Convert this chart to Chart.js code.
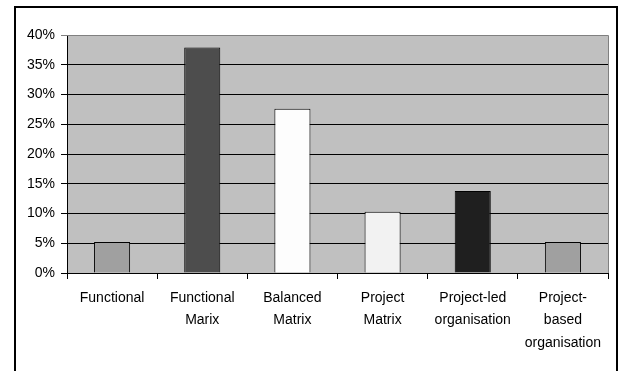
<!DOCTYPE html>
<html>
<head>
<meta charset="utf-8">
<script src="https://cdn.jsdelivr.net/npm/chart.js@4.4.0/dist/chart.umd.min.js"></script>
<style>
  html, body { margin: 0; padding: 0; background: #fff; }
  #wrap { position: relative; width: 618px; height: 371px; overflow: hidden; }
  #frame {
    position: absolute; left: 14px; top: 6px; width: 604px; height: 420px;
    box-sizing: border-box; border: 2px solid #000; border-bottom: none;
  }
  canvas { position: absolute; left: 0; top: 0; }
</style>
</head>
<body>
<div id="wrap">
  <div id="frame"></div>
  <canvas id="chart" width="618" height="371"></canvas>
</div>
<script>
// categories and values (share of respondents, %)
const categories = [
  ['Functional'],
  ['Functional', 'Marix'],
  ['Balanced', 'Matrix'],
  ['Project', 'Matrix'],
  ['Project-led', 'organisation'],
  ['Project-', 'based', 'organisation']
];
const shares = [5.2, 37.9, 27.6, 10.3, 13.8, 5.2];
const barColours = ['#a0a0a0', '#4d4d4d', '#fdfdfd', '#f2f2f2', '#1f1f1f', '#a0a0a0'];
const yMax = 40;
const yStep = 5;

Chart.defaults.font.family = "'Liberation Sans', Arial, sans-serif";
Chart.defaults.font.size = 14;
Chart.defaults.color = '#000';

// grey plot background with grey top/right border
const plotBackground = {
  id: 'plotBackground',
  beforeDraw(chart) {
    const a = chart.chartArea, c = chart.ctx;
    c.save();
    c.fillStyle = '#c0c0c0';
    c.fillRect(a.left, a.top, a.right - a.left, a.bottom - a.top);
    c.restore();
  },
  afterDatasetsDraw(chart) {
    const a = chart.chartArea, c = chart.ctx;
    c.save();
    c.strokeStyle = '#808080';
    c.lineWidth = 1;
    c.beginPath();
    c.moveTo(a.left, a.top + 0.5);
    c.lineTo(a.right + 0.5, a.top + 0.5);
    c.lineTo(a.right + 0.5, a.bottom);
    c.stroke();
    c.restore();
  }
};

new Chart(document.getElementById('chart'), {
  type: 'bar',
  data: {
    labels: categories,
    datasets: [{
      data: shares,
      backgroundColor: barColours,
      borderColor: '#000',
      borderWidth: 1,
      categoryPercentage: 1,
      barPercentage: 0.4
    }]
  },
  options: {
    responsive: false,
    animation: false,
    layout: { padding: { top: 35, right: 10, left: 0, bottom: 0 } },
    plugins: { legend: { display: false }, tooltip: { enabled: false } },
    scales: {
      x: {
        grid: { drawOnChartArea: false, drawTicks: true, tickLength: 6, color: '#000' },
        border: { color: '#000', width: 1 },
        ticks: { padding: 8, maxRotation: 0, autoSkip: false, font: { lineHeight: 1.6 } },
        afterFit: (s) => { s.height = 98; }
      },
      y: {
        min: 0,
        max: yMax,
        grid: {
          color: (ctx) => ctx.tick && ctx.tick.value === yMax ? '#808080' : '#000',
          tickLength: 6
        },
        border: { color: '#000', width: 1 },
        ticks: { stepSize: yStep, padding: 6, callback: (v) => v + '%' },
        afterFit: (s) => { s.width = 67; }
      }
    }
  },
  plugins: [plotBackground]
});
</script>
</body>
</html>
